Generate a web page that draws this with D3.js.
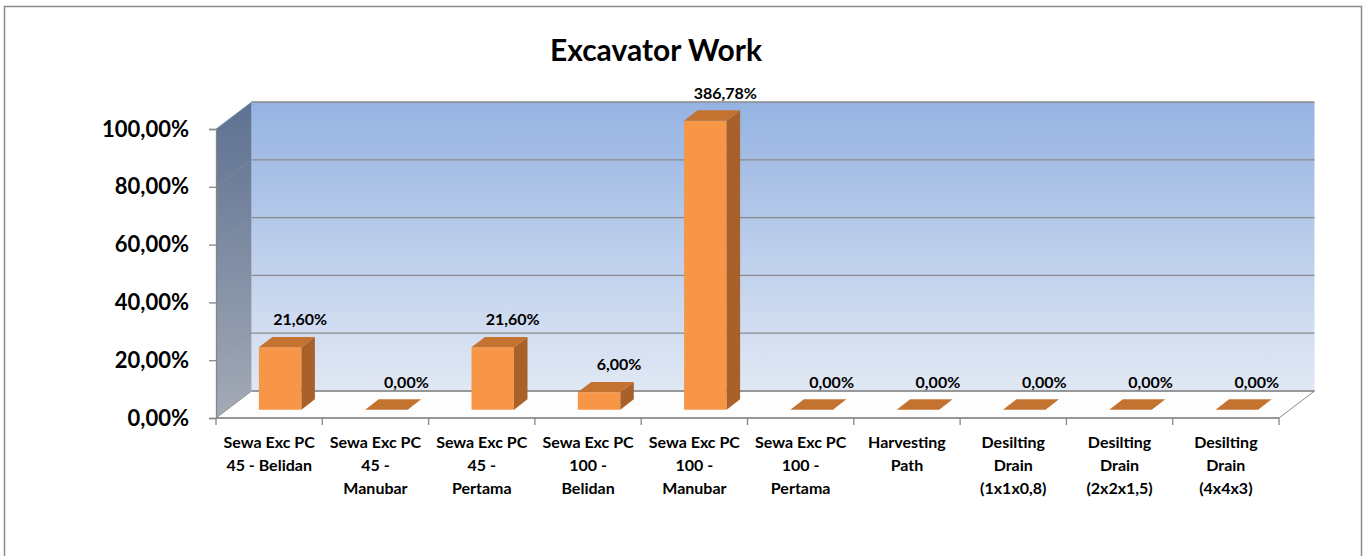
<!DOCTYPE html>
<html>
<head>
<meta charset="utf-8">
<title>Excavator Work</title>
<script src="https://cdn.jsdelivr.net/npm/d3@7"></script>
<style>
  body { margin: 0; background: #fff; }
  text { font-family: Lato, "Open Sans", sans-serif; font-weight: bold; fill: #000; }
</style>
</head>
<body>
<script>
    // data
    var categories = ["Sewa Exc PC\n45 - Belidan", "Sewa Exc PC\n45 -\nManubar", "Sewa Exc PC\n45 -\nPertama",
                      "Sewa Exc PC\n100 -\nBelidan", "Sewa Exc PC\n100 -\nManubar", "Sewa Exc PC\n100 -\nPertama",
                      "Harvesting\nPath", "Desilting\nDrain\n(1x1x0,8)", "Desilting\nDrain\n(2x2x1,5)", "Desilting\nDrain\n(4x4x3)"];
    var values = [0.216, 0, 0.216, 0.06, 3.8678, 0, 0, 0, 0, 0];
    var yTicks = [0, 0.2, 0.4, 0.6, 0.8, 1.0];

    var width = 1371, height = 556;
    // depth offset of the 3D box
    var dx = 35.5, dy = 27;
    var zFront = 0.31, zBack = 0.69;

    var pct = function(v) { return d3.format(".2f")(v * 100).replace(".", ",") + "%"; };

    var svg = d3.select("body").append("svg")
                .attr("width", width)
                .attr("height", height);

    var defs = svg.append("defs");
    var g1 = defs.append("linearGradient").attr("id", "backWall")
                 .attr("x1", 0).attr("y1", 0).attr("x2", 0).attr("y2", 1);
    g1.append("stop").attr("offset", "0%").attr("stop-color", "#95b3e2");
    g1.append("stop").attr("offset", "100%").attr("stop-color", "#e1e8f4");
    var g2 = defs.append("linearGradient").attr("id", "sideWall")
                 .attr("x1", 0).attr("y1", 0).attr("x2", 0).attr("y2", 1);
    g2.append("stop").attr("offset", "0%").attr("stop-color", "#5d7192");
    g2.append("stop").attr("offset", "100%").attr("stop-color", "#a4aab6");

    // outer border
    svg.append("rect")
       .attr("x", 4.5).attr("y", 6.5)
       .attr("width", 1357).attr("height", 560)
       .attr("fill", "#fff").attr("stroke", "#8c8c8c").attr("stroke-width", 1.5);

    var x = d3.scaleBand().domain(d3.range(categories.length)).range([216, 1279]);
    var y = d3.scaleLinear().domain([0, 1]).range([418, 129]).clamp(true);

    var x0 = x.range()[0], x1 = x.range()[1];
    var yb = y(0), yt = y(1);

    function pt(px, py, z) { return [px + z * dx, py - z * dy]; }
    function poly(pts) { return pts.map(function(p) { return p.join(","); }).join(" "); }

    // back wall
    svg.append("polygon")
       .attr("points", poly([pt(x0, yt, 1), pt(x1, yt, 1), pt(x1, yb, 1), pt(x0, yb, 1)]))
       .attr("fill", "url(#backWall)");
    // side wall
    svg.append("polygon")
       .attr("points", poly([pt(x0, yt, 0), pt(x0, yt, 1), pt(x0, yb, 1), pt(x0, yb, 0)]))
       .attr("fill", "url(#sideWall)");
    // floor
    svg.append("polygon")
       .attr("points", poly([pt(x0, yb, 0), pt(x0, yb, 1), pt(x1, yb, 1), pt(x1, yb, 0)]))
       .attr("fill", "#fdfdfd").attr("stroke", "#8c8c8c").attr("stroke-width", 1);

    // gridlines on back and side wall
    yTicks.forEach(function(t) {
        if (t === 0) return;
        var a = pt(x0, y(t), 1), b = pt(x1, y(t), 1), c = pt(x0, y(t), 0);
        svg.append("line").attr("x1", a[0]).attr("y1", a[1]).attr("x2", b[0]).attr("y2", b[1])
           .attr("stroke", "#8a8a8a").attr("stroke-width", 1.3);
        svg.append("line").attr("x1", c[0]).attr("y1", c[1]).attr("x2", a[0]).attr("y2", a[1])
           .attr("stroke", "#8593ab").attr("stroke-width", 1).attr("opacity", 0.5);
    });
    var bl = pt(x0, yb, 1), br = pt(x1, yb, 1);
    svg.append("line").attr("x1", bl[0]).attr("y1", bl[1]).attr("x2", br[0]).attr("y2", br[1])
       .attr("stroke", "#8a8a8a").attr("stroke-width", 1.3);

    // y axis
    var yAxis = svg.append("g")
       .attr("transform", "translate(" + x0 + ",0)")
       .call(d3.axisLeft(y).tickValues(yTicks).tickFormat(pct).tickSize(7).tickPadding(20));
    yAxis.selectAll("line, path").attr("stroke", "#868686").attr("stroke-width", 1.3);
    yAxis.selectAll("text").attr("font-size", 22).attr("fill", "#000")
         .style("font-family", "Lato, sans-serif").style("font-weight", "bold");

    // x axis
    var xAxis = svg.append("g")
       .attr("transform", "translate(0," + yb + ")");
    xAxis.append("line").attr("x1", x0).attr("x2", x1).attr("y1", 0).attr("y2", 0)
         .attr("stroke", "#868686").attr("stroke-width", 1.3);
    xAxis.selectAll(".tk").data(d3.range(categories.length + 1)).enter().append("line")
         .attr("x1", function(i) { return x0 + i * x.bandwidth(); })
         .attr("x2", function(i) { return x0 + i * x.bandwidth(); })
         .attr("y1", 0).attr("y2", 7)
         .attr("stroke", "#868686").attr("stroke-width", 1.3);
    xAxis.selectAll(".lbl").data(categories).enter().append("text")
         .attr("text-anchor", "middle")
         .attr("font-size", 16)
         .attr("transform", function(d, i) { return "translate(" + (x(i) + x.bandwidth() / 2) + ",30)"; })
         .each(function(d) {
             var t = d3.select(this);
             d.split("\n").forEach(function(line, k) {
                 t.append("tspan").attr("x", 0).attr("y", k * 23).text(line);
             });
         });

    // bars
    var bw = x.bandwidth() * 0.4;
    var bars = svg.selectAll(".bar").data(values).enter().append("g").attr("class", "bar");
    bars.each(function(v, i) {
        var g = d3.select(this);
        var l = x(i) + (x.bandwidth() - bw) / 2, r = l + bw;
        var top = y(v), bot = y(0);
        // front face
        g.append("polygon")
         .attr("points", poly([pt(l, top, zFront), pt(r, top, zFront), pt(r, bot, zFront), pt(l, bot, zFront)]))
         .attr("fill", "#f79646");
        // side face
        g.append("polygon")
         .attr("points", poly([pt(r, top, zFront), pt(r, top, zBack), pt(r, bot, zBack), pt(r, bot, zFront)]))
         .attr("fill", "#a9612b");
        // top face
        g.append("polygon")
         .attr("points", poly([pt(l, top, zFront), pt(l, top, zBack), pt(r, top, zBack), pt(r, top, zFront)]))
         .attr("fill", "#c3722f");
        var lp = pt((l + r) / 2, top, zFront);
        g.append("text")
         .attr("x", lp[0] + 20).attr("y", lp[1] - 22)
         .attr("text-anchor", "middle")
         .attr("font-size", 16)
         .text(pct(v));
    });

    // title
    svg.append("text")
       .attr("x", 656).attr("y", 61)
       .attr("text-anchor", "middle")
       .attr("font-size", 30)
       .text("Excavator Work");
</script>
</body>
</html>
